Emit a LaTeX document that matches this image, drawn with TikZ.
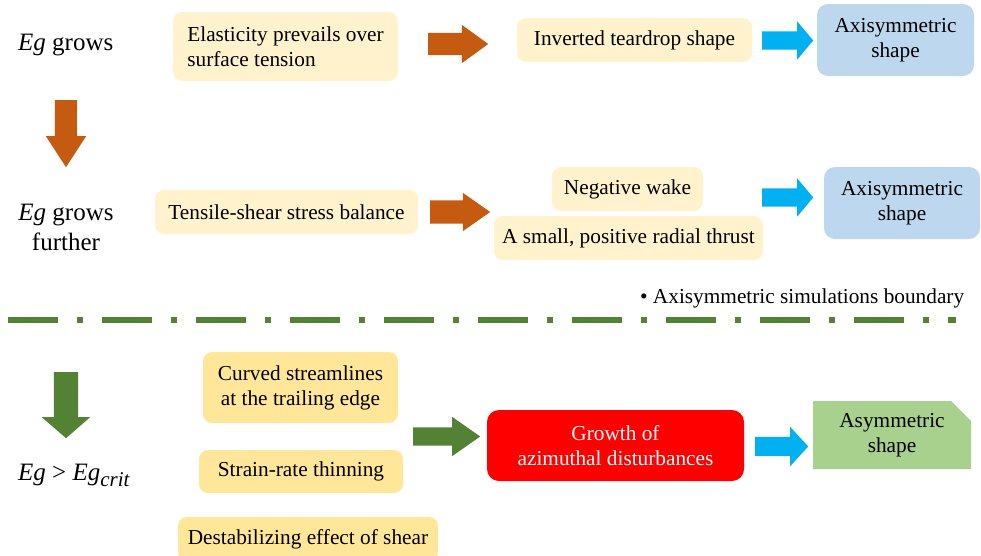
\documentclass[tikz,border=0pt]{standalone}
\usepackage{fontspec}
\setmainfont{Liberation Serif}
\usetikzlibrary{shapes.arrows,shapes.misc}
\definecolor{rust}{HTML}{C55A11}
\definecolor{sky}{HTML}{00B0F0}
\definecolor{moss}{HTML}{548235}
\definecolor{cream}{HTML}{FFF2CC}
\definecolor{butter}{HTML}{FFE699}
\definecolor{steel}{HTML}{BDD7EE}
\definecolor{sage}{HTML}{A9D18E}
\newcommand{\Eg}{\textit{Eg}}

\begin{document}
\begin{tikzpicture}[
  x=1pt, y=-1pt,
  every node/.style={font=\fontsize{21.3}{25}\selectfont, inner sep=0pt, align=center},
  stage label/.style={font=\fontsize{25}{30}\selectfont},
  cause box/.style={fill=cream, rounded corners=9pt},
  trigger box/.style={fill=butter, rounded corners=9pt},
  shape box/.style={fill=steel, rounded corners=11pt},
  flow arrow/.style={single arrow, draw=none, anchor=tail},
  boundary line/.style={moss, line width=6pt, dash pattern=on 50pt off 19pt on 6pt off 19pt}
]
\useasboundingbox (0,0) rectangle (981,555);

% upper stages
\node[stage label, anchor=base west] (grows) at (18,50) {\Eg{} grows};
\node[cause box, minimum width=225pt, minimum height=69pt, align=left] (elastic) at (285.5,46.5)
  {Elasticity prevails over\\surface tension};
\node[cause box, minimum width=235pt, minimum height=44pt] (teardrop) at (634.5,40) {Inverted teardrop shape};
\node[shape box, minimum width=157pt, minimum height=72pt] (axis top) at (895.5,40) {Axisymmetric\\shape};

\node[stage label] (further) at (66,227) {\Eg{} grows\\further};
\node[cause box, minimum width=263pt, minimum height=44pt] (tensile) at (286.5,212) {Tensile-shear stress balance};
\node[cause box, minimum width=151pt, minimum height=44pt] (wake) at (627.5,189) {Negative wake};
\node[cause box, minimum width=269pt, minimum height=44pt] (thrust) at (628.5,238) {A small, positive radial thrust};
\node[shape box, minimum width=156pt, minimum height=72pt] (axis mid) at (902,203) {Axisymmetric\\shape};

% boundary of the axisymmetric runs
\node[anchor=base west] (boundary) at (640,303) {\textbullet\ Axisymmetric simulations boundary};
\coordinate (line start) at (8,320);
\coordinate (line end) at (956,320);
\draw[boundary line] (line start) -- (line end);

% lower stage
\node[stage label, anchor=base west] (critical) at (18,480)
  {\Eg{} > \Eg{}\raisebox{-6pt}{\fontsize{21}{21}\selectfont\textit{crit}}};
\node[trigger box, minimum width=195pt, minimum height=71pt] (curved) at (300.5,387.5)
  {Curved streamlines\\at the trailing edge};
\node[trigger box, minimum width=204pt, minimum height=43pt] (strain) at (301,471.5) {Strain-rate thinning};
\node[trigger box, minimum width=260pt, minimum height=44pt] (destab) at (308,539) {Destabilizing effect of shear};
\node[fill=red, text=white, rounded corners=12pt, minimum width=257pt, minimum height=71pt] (growth) at (615.5,445.5)
  {Growth of\\azimuthal disturbances};
\node[chamfered rectangle, chamfered rectangle corners=north east, chamfered rectangle xsep=10pt,
  chamfered rectangle ysep=10pt, fill=sage, minimum width=158pt, minimum height=68pt] (asym) at (892,435)
  {Asymmetric\\shape};

% block arrows, placed by their tail: name/x/y/length/shaft/head extend/tip angle/colour/rotation
\foreach \nm/\px/\py/\len/\sh/\ext/\ang/\col/\rot in {
  up/428/44/60/22/8/72/rust/0,
  top/762/40.5/51/18/10/100/sky/0,
  down/66/100/67/22/9/66/rust/270,
  mid/430/212/60/23/7.5/70/rust/0,
  side/762/197.5/51/18/10/100/sky/0,
  drop/66/372/66/24/12/98/moss/270,
  join/413/436.5/67/18/10.5/70/moss/0,
  out/755/446.5/53/19/10/95/sky/0
} {
  \node[flow arrow, fill=\col, inner sep=\sh/2*1pt, minimum height=\len pt,
    single arrow head extend=\ext pt, single arrow tip angle=\ang, shape border rotate=\rot]
    (arrow \nm) at (\px,\py) {};
}
\end{tikzpicture}
\end{document}
